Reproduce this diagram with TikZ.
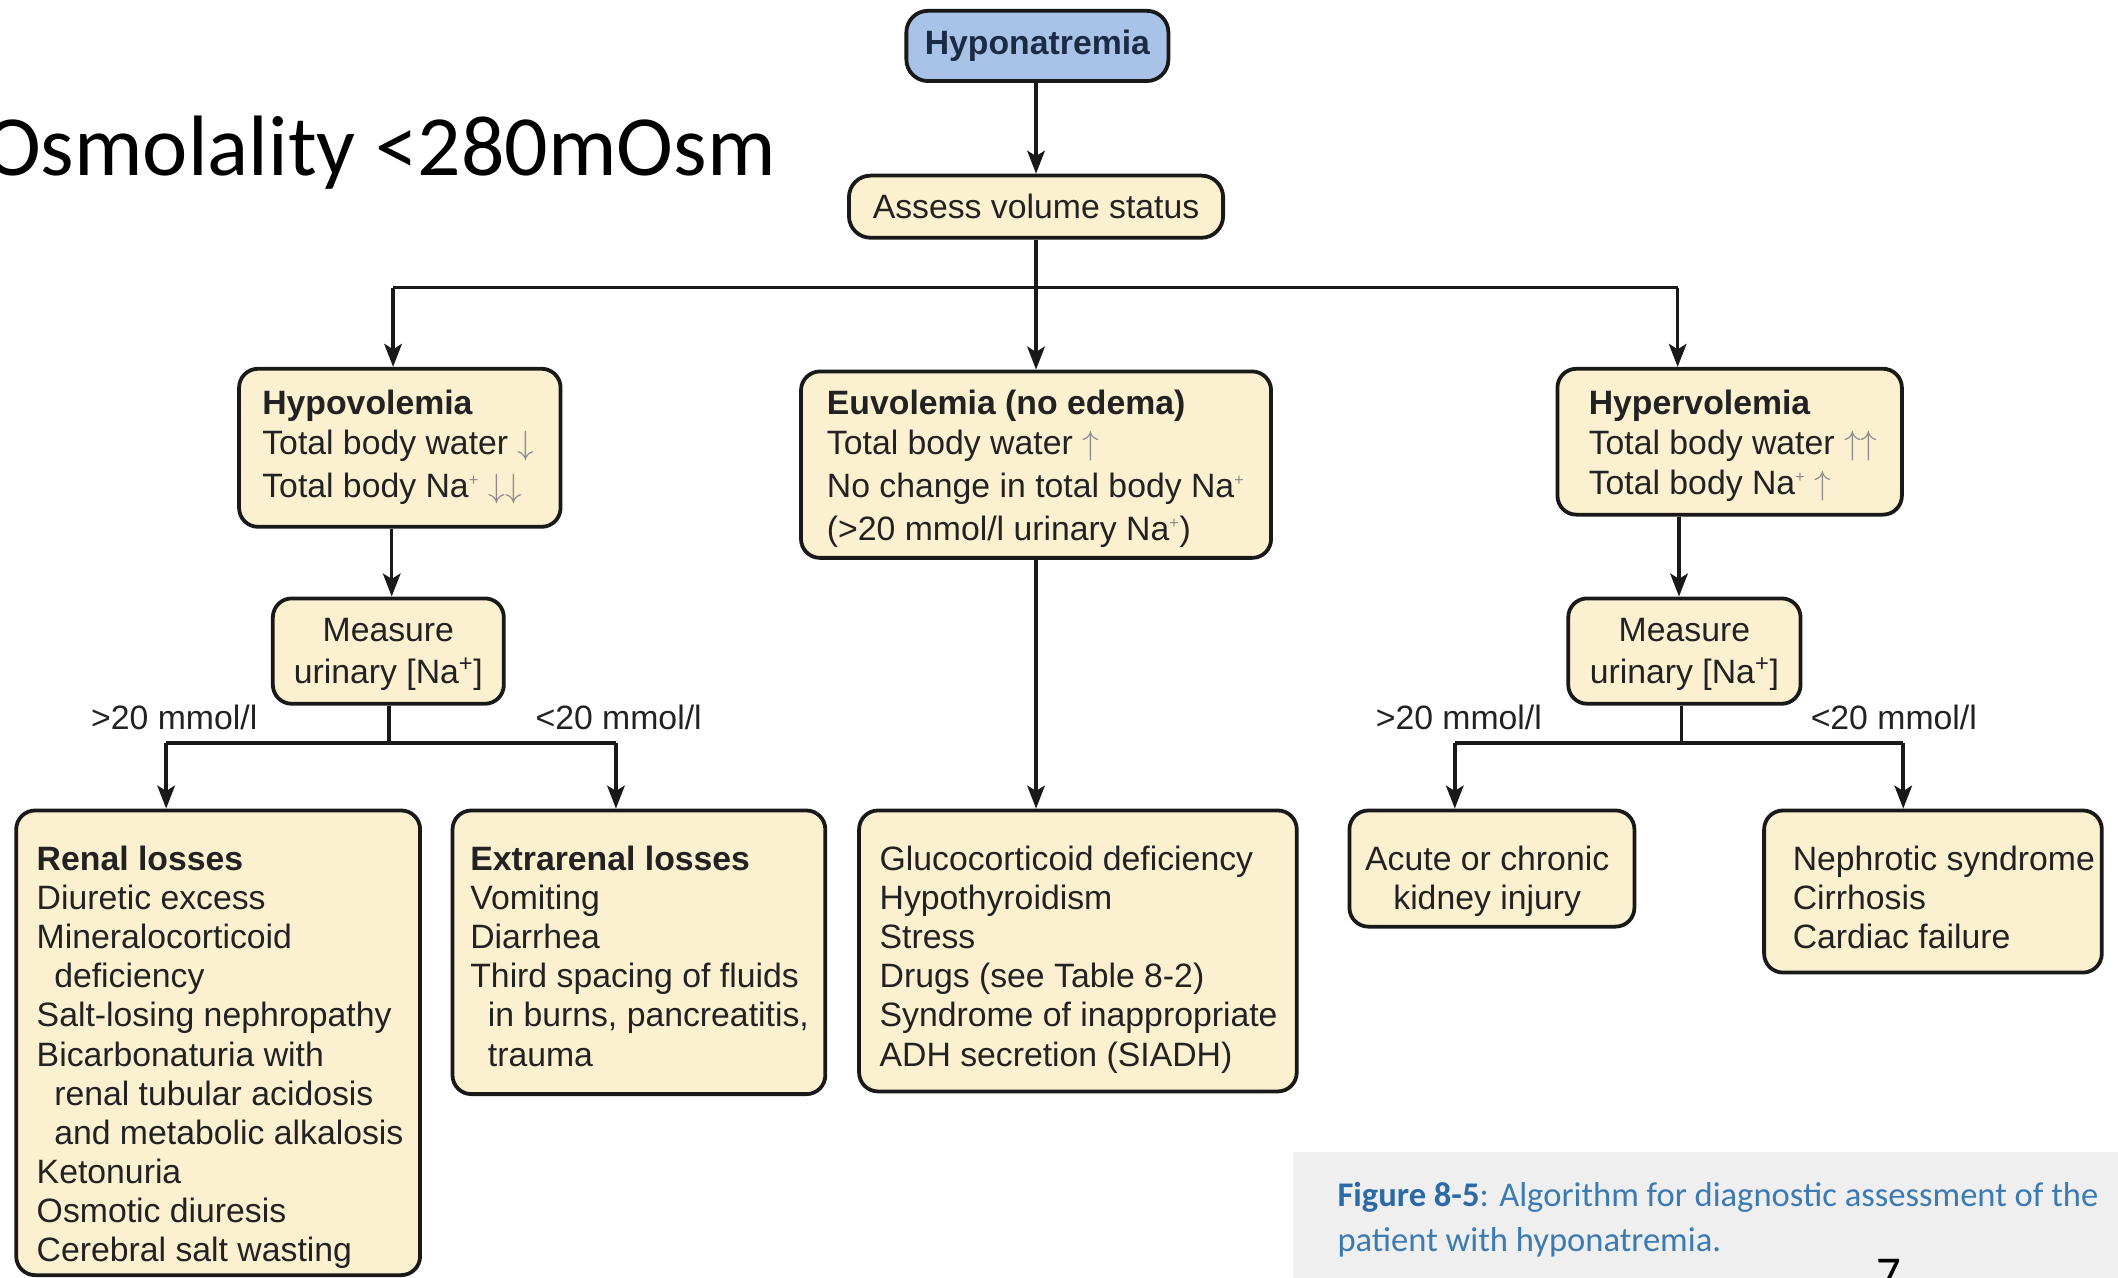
\documentclass[tikz,border=0pt]{standalone}
\usepackage{fontspec}
\setmainfont{Liberation Sans}
\newfontfamily\calfont{Carlito}
\usetikzlibrary{arrows.meta,calc}
\definecolor{cream}{HTML}{FBF0CF}
\definecolor{bluebox}{HTML}{A8C3E7}
\definecolor{navytext}{HTML}{1C2B45}
\definecolor{inktext}{HTML}{222222}
\definecolor{arrowgray}{HTML}{8C8C8C}
\definecolor{capbg}{HTML}{EFEFEF}
\definecolor{capblue}{HTML}{3C7AB2}
\definecolor{capbold}{HTML}{2C6AA6}
\newcommand\upa{{\color{arrowgray}$\uparrow$}}
\newcommand\dna{{\color{arrowgray}$\downarrow$}}
\newcommand\nap{Na\textsuperscript{\color{arrowgray}\fontsize{12}{12}\selectfont +}}
\newcommand\napd{Na\textsuperscript{+}}
\tikzset{
  boxst/.style={draw=black!90, line width=2.8pt, rounded corners=14pt, fill=cream, inner sep=0pt},
  txt/.style={anchor=north west, inner sep=0pt, align=left, font=\fontsize{25}{29}\selectfont, text=inktext},
  ctxt/.style={anchor=north, inner sep=0pt, align=center, font=\fontsize{25}{29}\selectfont, text=inktext},
  lbl/.style={inner sep=0pt, font=\fontsize{25}{29}\selectfont, text=inktext},
  conn/.style={line width=2.6pt, draw=black!90},
  arr/.style={conn, -{Stealth[length=17pt,width=13pt,inset=4pt]}},
}
\begin{document}
\begin{tikzpicture}[x=1pt,y=-1pt]
\useasboundingbox (0,0) rectangle (1568,946);
\fill[white] (0,0) rectangle (1568,946);

% title
\node[anchor=base west, inner sep=0pt, font=\calfont\fontsize{63.5}{70}\selectfont] (title) at (-12,130) {Osmolality <280mOsm};

% boxes
\node[boxst, fill=bluebox, rounded corners=16pt, minimum width=194pt, minimum height=52pt, font=\bfseries\fontsize{25}{29}\selectfont, text=navytext] (hypon) at (768,34) {Hyponatremia};
\node[boxst, rounded corners=16pt, minimum width=277pt, minimum height=46pt, font=\fontsize{25}{29}\selectfont, text=inktext] (assess) at (767,153) {Assess volume status};

\node[boxst, minimum width=238pt, minimum height=117pt] (hypo) at (296,331.5) {};
\node[boxst, minimum width=348pt, minimum height=138pt] (euvo) at (767,344) {};
\node[boxst, minimum width=255pt, minimum height=108pt] (hyper) at (1280.5,327) {};

\node[boxst, minimum width=171pt, minimum height=78pt] (meas1) at (287.5,482) {};
\node[boxst, minimum width=172pt, minimum height=78pt] (meas2) at (1247,482) {};

\node[boxst, minimum width=299pt, minimum height=344pt] (renal) at (161.5,772) {};
\node[boxst, minimum width=276pt, minimum height=210pt] (extra) at (473,705) {};
\node[boxst, minimum width=324pt, minimum height=208pt] (euvc) at (798,704) {};
\node[boxst, minimum width=211pt, minimum height=86pt] (aki) at (1104.5,643) {};
\node[boxst, minimum width=250pt, minimum height=120pt] (neph) at (1431,660) {};

% box texts
\node[txt] (hypoT) at (194,287) {\rule{0pt}{20pt}\textbf{Hypovolemia}\\Total body water \dna\\[3pt]Total body \nap{} \dna\dna};
\node[txt] (euvoT) at (612,287) {\rule{0pt}{20pt}\textbf{Euvolemia (no edema)}\\Total body water \upa\\[3pt]No change in total body \nap\\[3pt](>20 mmol/l urinary \nap)};
\node[txt] (hyperT) at (1176,287) {\rule{0pt}{20pt}\textbf{Hypervolemia}\\Total body water \upa\upa\\[1pt]Total body \nap{} \upa};
\node[ctxt, font=\fontsize{25}{31}\selectfont] (meas1T) at (287.5,455) {\rule{0pt}{20pt}Measure\\urinary [\napd]};
\node[ctxt, font=\fontsize{25}{31}\selectfont] (meas2T) at (1247,455) {\rule{0pt}{20pt}Measure\\urinary [\napd]};

\node[txt] (renalT) at (27,624) {\rule{0pt}{20pt}\textbf{Renal losses}\\Diuretic excess\\Mineralocorticoid\\\hspace*{13pt}deficiency\\Salt-losing nephropathy\\Bicarbonaturia with\\\hspace*{13pt}renal tubular acidosis\\\hspace*{13pt}and metabolic alkalosis\\Ketonuria\\Osmotic diuresis\\Cerebral salt wasting};
\node[txt] (extraT) at (348,624) {\rule{0pt}{20pt}\textbf{Extrarenal losses}\\Vomiting\\Diarrhea\\Third spacing of fluids\\\hspace*{13pt}in burns, pancreatitis,\\\hspace*{13pt}trauma};
\node[txt] (euvcT) at (651,624) {\rule{0pt}{20pt}Glucocorticoid deficiency\\Hypothyroidism\\Stress\\Drugs (see Table 8-2)\\Syndrome of inappropriate\\ADH secretion (SIADH)};
\node[ctxt] (akiT) at (1101,624) {\rule{0pt}{20pt}Acute or chronic\\kidney injury};
\node[txt] (nephT) at (1327,624) {\rule{0pt}{20pt}Nephrotic syndrome\\Cirrhosis\\Cardiac failure};

% branch labels
\node[lbl] (l1) at (129,531) {>20 mmol/l};
\node[lbl] (l2) at (458,531) {<20 mmol/l};
\node[lbl] (l3) at (1080,531) {>20 mmol/l};
\node[lbl] (l4) at (1402,531) {<20 mmol/l};

% junction coordinates
\coordinate (jT) at (767,213);
\coordinate (jTL) at (291,213);
\coordinate (jTR) at (1242,213);
\coordinate (j1) at (288,550);
\coordinate (j1L) at (123,550);
\coordinate (j1R) at (456,550);
\coordinate (j2) at (1245,550);
\coordinate (j2L) at (1077,550);
\coordinate (j2R) at (1409,550);

% connectors
\draw[arr] (hypon.south -| assess.north) -- (assess.north);
\draw[arr] (assess.south) -- (euvo.north);
\draw[conn] (jTL) -- (jTR);
\draw[arr] (jTL) -- (jTL |- hypo.north);
\draw[arr] (jTR) -- (jTR |- hyper.north);
\draw[arr] (hypo.south -| 290,0) -- (290,0 |- meas1.north);
\draw[arr] (hyper.south -| 1243,0) -- (1243,0 |- meas2.north);
\draw[conn] (meas1.south -| j1) -- (j1);
\draw[conn] (j1L) -- (j1R);
\draw[arr] (j1L) -- (j1L |- renal.north);
\draw[arr] (j1R) -- (j1R |- extra.north);
\draw[conn] (meas2.south -| j2) -- (j2);
\draw[conn] (j2L) -- (j2R);
\draw[arr] (j2L) -- (j2L |- aki.north);
\draw[arr] (j2R) -- (j2R |- neph.north);
\draw[arr] (euvo.south) -- (euvo.south |- euvc.north);

% caption
\node[fill=capbg, anchor=north west, minimum width=611pt, minimum height=93pt, inner sep=0pt] (capbox) at (957,853) {};
\node[anchor=north west, inner sep=0pt, align=left, font=\calfont\fontsize{25.6}{33}\selectfont, text=capblue] (capT) at (990,874) {\rule{0pt}{19pt}{\bfseries\color{capbold}Figure 8-5}: Algorithm for diagnostic assessment of the\\patient with hyponatremia.};
\node[anchor=base west, inner sep=0pt, font=\calfont\fontsize{36}{40}\selectfont] (pnum) at (1389,955) {7};
\end{tikzpicture}
\end{document}
